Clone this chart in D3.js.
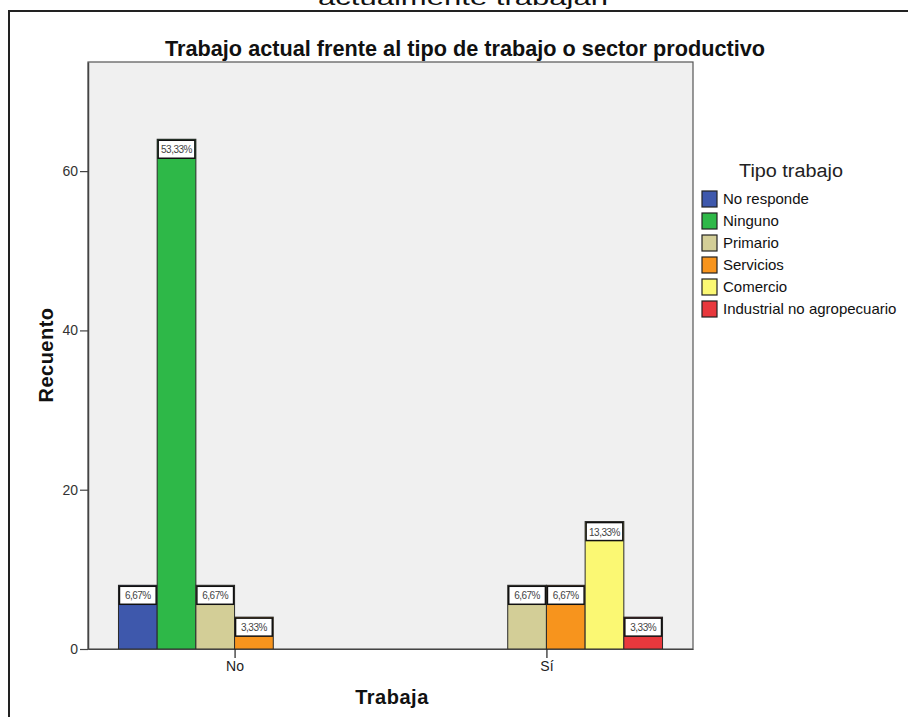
<!DOCTYPE html>
<html><head><meta charset="utf-8">
<script src="https://cdn.jsdelivr.net/npm/d3@7"></script>
<style>body{margin:0;background:#fff}svg{display:block}text{font-family:"Liberation Sans",Arial,sans-serif}</style>
</head><body><svg id="c" width="908" height="717"></svg>
<script>
const categories = ["No", "Sí"];
const tipos = ["No responde", "Ninguno", "Primario", "Servicios", "Comercio", "Industrial no agropecuario"];
const colors = ["#3e58ac", "#2eb848", "#d3ce97", "#f7941d", "#fbf873", "#e8383d"];
const countsNo = [8, 64, 8, 4, 0, 0];
const countsSi = [0, 0, 8, 8, 16, 4];
const pctNo = ["6,67%", "53,33%", "6,67%", "3,33%", "", ""];
const pctSi = ["", "", "6,67%", "6,67%", "13,33%", "3,33%"];
const yTicks = [0, 20, 40, 60];

const svg = d3.select("#c");
const L = 88, R = 693, T = 62, B = 649;

// top cut-off text & frame
svg.append("text").attr("x", 463).attr("y", 5).attr("text-anchor", "middle")
  .attr("font-size", 21).attr("fill", "#111").attr("textLength", 290).attr("lengthAdjust", "spacingAndGlyphs")
  .text("actualmente trabajan");
svg.append("path").attr("d", `M9,717 V11 H908`).attr("fill", "none").attr("stroke", "#222").attr("stroke-width", 2);

svg.append("text").attr("x", 465).attr("y", 56).attr("text-anchor", "middle")
  .attr("font-size", 22).attr("font-weight", "bold").attr("fill", "#111")
  .attr("textLength", 600).attr("lengthAdjust", "spacingAndGlyphs")
  .text("Trabajo actual frente al tipo de trabajo o sector productivo");

svg.append("rect").attr("x", L).attr("y", T).attr("width", R - L).attr("height", B - T)
  .attr("fill", "#f0f0f0").attr("stroke", "#555").attr("stroke-width", 1.2);

const y = d3.scaleLinear().domain([0, 73.7]).range([B, T]);
const x = d3.scalePoint().domain(categories).range([L, R]).padding(0.47);
const slot = 38.7;
const inner = d3.scaleBand().domain(tipos).range([-3 * slot, 3 * slot]).padding(0);

const data = [];
categories.forEach((c, ci) => {
  const vals = ci === 0 ? countsNo : countsSi;
  const pcts = ci === 0 ? pctNo : pctSi;
  tipos.forEach((t, ti) => { if (vals[ti] > 0) data.push({ c, t, v: vals[ti], p: pcts[ti], col: colors[ti] }); });
});

const g = svg.append("g");
data.forEach(d => {
  const x0 = x(d.c) + inner(d.t), w = inner.bandwidth();
  g.append("rect").attr("x", x0).attr("y", y(d.v)).attr("width", w).attr("height", B - y(d.v))
    .attr("fill", d.col).attr("stroke", "#2a2a2a").attr("stroke-width", 1);
  g.append("rect").attr("x", x0 + 1).attr("y", y(d.v) + 1).attr("width", w - 2).attr("height", 18)
    .attr("fill", "#fff").attr("stroke", "#111").attr("stroke-width", 1.5);
  g.append("text").attr("x", x0 + w / 2).attr("y", y(d.v) + 14).attr("text-anchor", "middle")
    .attr("font-size", 10).attr("fill", "#444").attr("letter-spacing", -0.5).text(d.p);
});

// axes
const ya = svg.append("g").attr("transform", `translate(${L},0)`)
  .call(d3.axisLeft(y).tickValues(yTicks).tickSize(8).tickSizeOuter(0).tickPadding(2));
ya.select(".domain").attr("stroke", "#444").attr("stroke-width", 1.5);
ya.selectAll(".tick line").attr("stroke", "#444").attr("stroke-width", 1.2);
ya.selectAll(".tick text").attr("font-size", 14).attr("fill", "#333").attr("font-family", "Liberation Sans, Arial");

const xa = svg.append("g").attr("transform", `translate(0,${B})`)
  .call(d3.axisBottom(x).tickSize(9).tickSizeOuter(0).tickPadding(3));
xa.select(".domain").attr("stroke", "#444").attr("stroke-width", 1.2);
xa.selectAll(".tick line").attr("stroke", "#222").attr("stroke-width", 1.2);
xa.selectAll(".tick text").attr("font-size", 14).attr("fill", "#222").attr("font-family", "Liberation Sans, Arial");

svg.append("text").attr("transform", "translate(53,355) rotate(-90)").attr("text-anchor", "middle")
  .attr("font-size", 20).attr("font-weight", "bold").attr("fill", "#111").attr("letter-spacing", 0.5).text("Recuento");
svg.append("text").attr("x", 392).attr("y", 704).attr("text-anchor", "middle")
  .attr("font-size", 20).attr("font-weight", "bold").attr("fill", "#111").attr("letter-spacing", 0.5).text("Trabaja");

// legend
const lg = svg.append("g");
lg.append("text").attr("x", 791).attr("y", 177).attr("text-anchor", "middle")
  .attr("font-size", 18).attr("fill", "#222").attr("textLength", 104).attr("lengthAdjust", "spacingAndGlyphs").text("Tipo trabajo");
tipos.forEach((t, i) => {
  const yy = 191 + i * 22;
  lg.append("rect").attr("x", 702).attr("y", yy).attr("width", 15).attr("height", 16)
    .attr("fill", colors[i]).attr("stroke", "#222").attr("stroke-width", 1.2);
  lg.append("text").attr("x", 723).attr("y", yy + 13).attr("font-size", 15).attr("fill", "#111").text(t);
});
</script></body></html>
